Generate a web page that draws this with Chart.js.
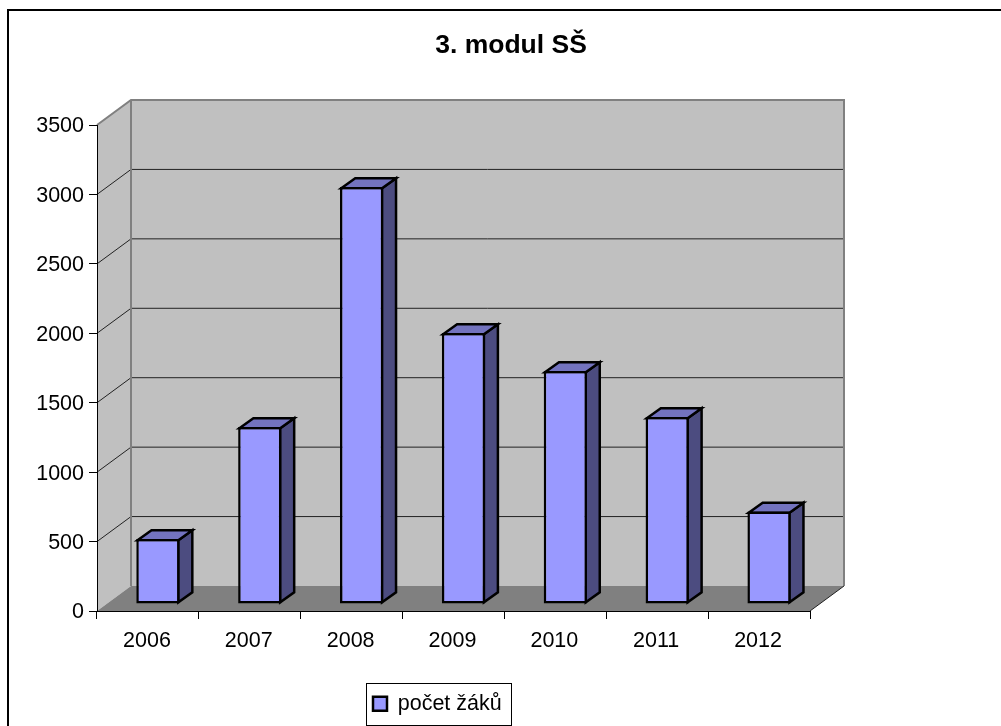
<!DOCTYPE html>
<html>
<head>
<meta charset="utf-8">
<title>3. modul SŠ</title>
<script src="https://cdn.jsdelivr.net/npm/chart.js@4"></script>
<style>
  html, body { margin: 0; padding: 0; background: #fff; overflow: hidden; }
  canvas { display: block; }
</style>
</head>
<body>
<canvas id="chart" width="1001" height="726"></canvas>
<script>
const years = ['2006', '2007', '2008', '2009', '2010', '2011', '2012'];
const students = [468, 1275, 3003, 1951, 1678, 1347, 666];
const seriesName = 'počet žáků';
const chartTitle = '3. modul SŠ';
const yMax = 3500;
const yStep = 500;

const font = 'Liberation Sans, Arial, sans-serif';

// fake 3D depth in px
const wallDx = 34, wallDy = -25;
const barOffX = 10, barOffY = -7;
const barDx = 14, barDy = -10;
const barLine = 2.5;

function poly(ctx, pts, fill, stroke, lw) {
  ctx.beginPath();
  pts.forEach((p, i) => i ? ctx.lineTo(p[0], p[1]) : ctx.moveTo(p[0], p[1]));
  ctx.closePath();
  if (fill) { ctx.fillStyle = fill; ctx.fill(); }
  if (stroke) { ctx.strokeStyle = stroke; ctx.lineWidth = lw; ctx.stroke(); }
}

const walls = {
  id: 'walls',
  afterLayout(chart) {
    // title and legend do not sit centred in the original
    chart.titleBlock.left += 106;
    chart.titleBlock.right += 106;
    const lg = chart.legend;
    const w = lg.width, h = lg.height;
    lg.left = 366; lg.right = 366 + w;
    lg.top = 686; lg.bottom = 686 + h;
  },
  beforeDraw(chart) {
    const ctx = chart.ctx;
    const { left, right, top, bottom } = chart.chartArea;
    const y = chart.scales.y;
    ctx.save();
    ctx.fillStyle = '#fff';
    ctx.fillRect(0, 0, chart.width, chart.height);

    const bl = left + wallDx, br = right + wallDx;
    const bt = top + wallDy, bb = bottom + wallDy;
    poly(ctx, [[left, top], [bl, bt], [bl, bb], [left, bottom]], '#c0c0c0');
    poly(ctx, [[bl, bt], [br, bt], [br, bb], [bl, bb]], '#c0c0c0');
    poly(ctx, [[left, bottom], [bl, bb], [br, bb], [right, bottom]], '#808080');

    // gridlines run up the side wall and along the back
    y.ticks.forEach(t => {
      if (t.value === 0 || t.value === yMax) return;
      const py = y.getPixelForValue(t.value);
      ctx.beginPath();
      ctx.moveTo(left, py);
      ctx.lineTo(bl, py + wallDy);
      ctx.lineTo(br, py + wallDy);
      ctx.strokeStyle = '#222';
      ctx.lineWidth = 1;
      ctx.stroke();
    });

    ctx.beginPath();
    ctx.moveTo(left, top);
    ctx.lineTo(bl, bt);
    ctx.lineTo(br, bt);
    ctx.lineTo(br, bb);
    ctx.moveTo(bl, bt);
    ctx.lineTo(bl, bb);
    ctx.strokeStyle = '#808080';
    ctx.lineWidth = 2;
    ctx.stroke();

    ctx.beginPath();
    ctx.moveTo(right, bottom);
    ctx.lineTo(br, bb);
    ctx.strokeStyle = '#222';
    ctx.lineWidth = 1;
    ctx.stroke();

    // outer frame, cut off by the window on the right and at the bottom
    ctx.strokeStyle = '#000';
    ctx.lineWidth = 2;
    ctx.strokeRect(8, 10, 1100, 1100);
    ctx.restore();
  },
  beforeDatasetDraw(chart, args) {
    const ctx = chart.ctx;
    ctx.save();
    ctx.translate(barOffX, barOffY);
    args.meta.data.forEach(bar => {
      const { x, y, base, width } = bar.getProps(['x', 'y', 'base', 'width'], true);
      const inset = barLine / 2;
      const l = x - width / 2 + inset, r = x + width / 2 - inset;
      const t = y + inset, b = base - inset;
      ctx.lineJoin = 'miter';
      poly(ctx, [[r, t], [r + barDx, t + barDy], [r + barDx, b + barDy], [r, b]], '#4c4c80', '#000', barLine);
      poly(ctx, [[l, t], [l + barDx, t + barDy], [r + barDx, t + barDy], [r, t]], '#7373bf', '#000', barLine);
    });
  },
  afterDatasetDraw(chart) {
    chart.ctx.restore();
  },
  afterDraw(chart) {
    const ctx = chart.ctx;
    ctx.save();
    ctx.strokeStyle = '#000';
    ctx.lineWidth = 1;
    ctx.strokeRect(366.5, 683.5, 145, 42);
    ctx.restore();
  }
};

new Chart(document.getElementById('chart'), {
  type: 'bar',
  data: {
    labels: years,
    datasets: [{
      label: seriesName,
      data: students,
      backgroundColor: '#9999ff',
      borderColor: '#000',
      borderWidth: barLine,
      borderSkipped: false,
      barPercentage: 1,
      categoryPercentage: 0.425,
      clip: false
    }]
  },
  options: {
    responsive: false,
    animation: false,
    layout: { padding: { left: 0, right: 191, top: 0, bottom: 0 } },
    plugins: {
      tooltip: { enabled: false },
      title: {
        display: true,
        text: chartTitle,
        color: '#000',
        font: { family: font, size: 26.5, weight: 'bold', lineHeight: 1.2 },
        padding: { top: 30.1, bottom: 63.1 }
      },
      legend: {
        position: 'chartArea',
        align: 'start',
        labels: {
          color: '#000',
          font: { family: font, size: 21.5 },
          boxWidth: 14,
          boxHeight: 14,
          padding: 7
        }
      }
    },
    scales: {
      x: {
        afterFit: s => { s.height = 115; },
        grid: { drawOnChartArea: false, tickLength: 8, color: '#000', lineWidth: 1 },
        border: { color: '#000', width: 1 },
        ticks: { color: '#000', font: { family: font, size: 21.5 }, padding: 9, labelOffset: -1, maxRotation: 0 }
      },
      y: {
        min: 0,
        max: yMax,
        afterFit: s => { s.width = 97; },
        grid: { drawOnChartArea: false, tickLength: 8, color: '#000', lineWidth: 1 },
        border: { color: '#000', width: 1 },
        ticks: {
          stepSize: yStep,
          color: '#000',
          font: { family: font, size: 21.5 },
          padding: 5,
          labelOffset: 1.5,
          callback: v => String(v)
        }
      }
    }
  },
  plugins: [walls]
});
</script>
</body>
</html>
